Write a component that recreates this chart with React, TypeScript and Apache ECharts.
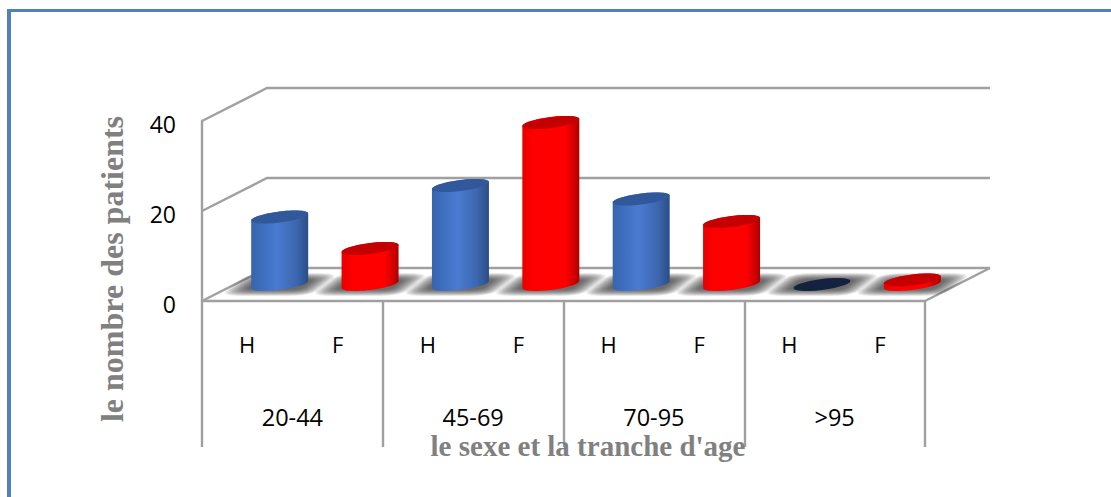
import React, { useEffect, useRef } from "react";
import * as echarts from "echarts";

// Patients by sex and age bracket
const sexLabels = ["H", "F", "H", "F", "H", "F", "H", "F"];
const ageGroups = ["20-44", "45-69", "70-95", ">95"];
const menCounts = [15, 22, 19, 0];
const womenCounts = [8, 36, 14, 1];
const valueTicks = [0, 20, 40];

const yTitle = "le nombre des patients";
const xTitle = "le sexe et la tranche d'age";

// Oblique projection of the depth axis, in pixels
const DEPTH_X = 65;
const DEPTH_Y = 33;
const GRID_COLOR = "#a0a0a0";
const LABEL_FONT = "'Open Sans', sans-serif";
const TITLE_FONT = "'Liberation Serif', serif";

// Half-axes of the tilted ellipse closing a cylinder
const RADIUS_X = 28.5;
const RADIUS_Y = 5.5;
const TILT = 3.5;

const ellipsePoint = (cx: number, cy: number, t: number) => [
  cx + RADIUS_X * Math.cos(t),
  cy - RADIUS_Y * Math.sin(t) - TILT * Math.cos(t),
];

const arc = (cx: number, cy: number, from: number, to: number) => {
  const steps = 28;
  const pts: number[][] = [];
  for (let i = 0; i <= steps; i++) {
    pts.push(ellipsePoint(cx, cy, from + ((to - from) * i) / steps));
  }
  return pts;
};

const wallItem = (_: any, api: any) => {
  const value = api.value(1);
  const band = api.size([1, 0])[0];
  const [cx, y] = api.coord([0, value]);
  const left = cx - band / 2;
  const right = left + band * sexLabels.length;
  const line = { stroke: GRID_COLOR, lineWidth: 2.4, fill: "none" };
  const children: any[] = [
    {
      type: "polyline",
      shape: { points: [[left, y], [left + DEPTH_X, y - DEPTH_Y], [right + DEPTH_X, y - DEPTH_Y]] },
      style: line,
    },
  ];
  if (value === 0) {
    children.push({
      type: "polyline",
      shape: { points: [[right, y], [right + DEPTH_X, y - DEPTH_Y]] },
      style: line,
    });
  }
  return { type: "group", children };
};

// Rounded, sheared outline used for the soft floor shadow
const shadowOutline = (cx: number, cy: number, w: number, h: number) => {
  const pts: number[][] = [];
  const steps = 32;
  for (let i = 0; i < steps; i++) {
    const t = (i / steps) * 2 * Math.PI;
    const c = Math.cos(t);
    const s = Math.sin(t);
    const dy = h * Math.sign(s) * Math.pow(Math.abs(s), 0.4);
    const dx = w * Math.sign(c) * Math.pow(Math.abs(c), 0.4);
    pts.push([cx + dx - dy * 1.3, cy + dy]);
  }
  return pts;
};

const shadowItem = (_: any, api: any) => {
  const [x, y0] = api.coord([api.value(0), 0]);
  const cx = x + DEPTH_X / 2;
  const cy = y0 - DEPTH_Y / 2;
  const children: any[] = [];
  const layers = 14;
  for (let i = 0; i < layers; i++) {
    const f = i / (layers - 1);
    children.push({
      type: "polygon",
      shape: { points: shadowOutline(cx, cy, 46 - 18 * f, 11.5 - 6 * f) },
      style: { fill: "#2e2e2e", opacity: 0.075 },
    });
  }
  return { type: "group", children };
};

const cylinderItem = (body: any, cap: string) => (_: any, api: any) => {
  const index = api.value(0);
  const value = api.value(1);
  const [x, y0] = api.coord([index, 0]);
  const yTop = api.coord([index, value])[1];
  const cx = x + DEPTH_X / 2;
  const baseY = y0 - DEPTH_Y / 2;
  const topY = yTop - DEPTH_Y / 2;
  const children: any[] = [];
  if (value > 0) {
    children.push({
      type: "polygon",
      shape: {
        points: [...arc(cx, baseY, Math.PI, 2 * Math.PI), ...arc(cx, topY, 0, Math.PI)],
      },
      style: { fill: body },
    });
  }
  children.push({
    type: "polygon",
    shape: { points: arc(cx, topY, 0, 2 * Math.PI) },
    style: { fill: value > 0 ? cap : "#14223f" },
  });
  return { type: "group", children };
};

const blueBody = new echarts.graphic.LinearGradient(0, 0, 1, 0, [
  { offset: 0, color: "#3664ae" },
  { offset: 0.45, color: "#4a7bd2" },
  { offset: 0.8, color: "#3c66ad" },
  { offset: 1, color: "#2a4d85" },
]);
const redBody = new echarts.graphic.LinearGradient(0, 0, 1, 0, [
  { offset: 0, color: "#e80000" },
  { offset: 0.2, color: "#ff0000" },
  { offset: 0.75, color: "#ff0000" },
  { offset: 0.92, color: "#cc0000" },
  { offset: 1, color: "#a80000" },
]);

const bySex = (counts: number[], first: number) =>
  counts.map((v, i) => [i * 2 + first, v]);

export default function App() {
  const ref = useRef<HTMLDivElement>(null);

  useEffect(() => {
    if (!ref.current) return;
    const chart = echarts.init(ref.current, undefined, { renderer: "svg" });
    chart.setOption({
      animation: false,
      backgroundColor: "#ffffff",
      grid: { left: 202, right: 186, top: 121, bottom: 196 },
      xAxis: [
        {
          type: "category",
          data: sexLabels,
          axisLine: { show: true, lineStyle: { color: GRID_COLOR, width: 2.4 } },
          axisTick: { show: false },
          axisLabel: { interval: 0, margin: 32, fontSize: 22, color: "#000", fontFamily: LABEL_FONT },
        },
        {
          type: "category",
          position: "bottom",
          data: ageGroups,
          axisLine: { show: false },
          axisTick: { show: true, length: 146, lineStyle: { color: GRID_COLOR, width: 2.4 } },
          axisLabel: { interval: 0, margin: 104, fontSize: 23.5, color: "#000", fontFamily: LABEL_FONT },
        },
      ],
      yAxis: {
        type: "value",
        min: 0,
        max: 40,
        interval: 20,
        axisLine: { show: true, lineStyle: { color: GRID_COLOR, width: 2.4 } },
        axisTick: { show: false },
        splitLine: { show: false },
        axisLabel: {
          margin: 26,
          fontSize: 23,
          color: "#000",
          fontFamily: LABEL_FONT,
          verticalAlign: "top",
          lineHeight: 5,
        },
      },
      series: [
        {
          type: "custom",
          name: "parois",
          renderItem: wallItem,
          data: valueTicks.map((v) => [0, v]),
          encode: { x: 0, y: 1 },
          silent: true,
          clip: false,
          z: 1,
        },
        {
          type: "custom",
          name: "ombres",
          renderItem: shadowItem,
          data: sexLabels.map((_, i) => [i, 0]),
          encode: { x: 0, y: 1 },
          silent: true,
          clip: false,
          z: 2,
        },
        {
          type: "custom",
          name: "H",
          renderItem: cylinderItem(blueBody, "#30589a"),
          data: bySex(menCounts, 0),
          encode: { x: 0, y: 1 },
          clip: false,
          z: 3,
        },
        {
          type: "custom",
          name: "F",
          renderItem: cylinderItem(redBody, "#c40000"),
          data: bySex(womenCounts, 1),
          encode: { x: 0, y: 1 },
          clip: false,
          z: 3,
        },
      ],
      graphic: [
        { type: "rect", shape: { x: 7, y: 9, width: 1104, height: 3 }, style: { fill: "#4f81bd" } },
        { type: "rect", shape: { x: 7, y: 9, width: 4, height: 488 }, style: { fill: "#4f81bd" } },
        {
          type: "text",
          x: 112,
          y: 269,
          rotation: Math.PI / 2,
          z: 10,
          style: {
            text: yTitle,
            fill: "#808080",
            font: `bold 32px ${TITLE_FONT}`,
            align: "center",
            verticalAlign: "middle",
          },
        },
        {
          type: "text",
          x: 588,
          y: 446,
          z: 10,
          style: {
            text: xTitle,
            fill: "#808080",
            font: `bold 29px ${TITLE_FONT}`,
            align: "center",
            verticalAlign: "middle",
          },
        },
      ],
    });
    return () => chart.dispose();
  }, []);

  return (
    <div
      ref={ref}
      style={{ position: "absolute", left: 0, top: 0, width: 1111, height: 497 }}
    />
  );
}
